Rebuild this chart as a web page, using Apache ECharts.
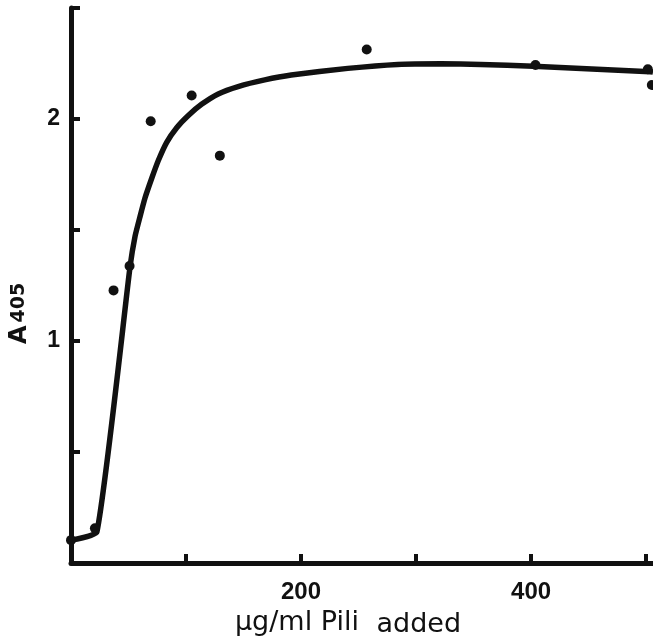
<!DOCTYPE html>
<html>
<head>
<meta charset="utf-8">
<script src="https://cdn.jsdelivr.net/npm/echarts@6/dist/echarts.min.js"></script>
<style>
html,body{margin:0;padding:0;background:#fff;}
#chart{width:653px;height:643px;}
</style>
</head>
<body>
<div id="chart"></div>
<script>
// Fitted curve (hand-drawn line)
const curveX = [0, 22.5, 51.4, 55.7, 60.1, 64.4, 70.2, 76, 83.2, 91.9, 102, 113.5, 128, 145.3, 168.4, 191.5, 240.6, 284, 321.5, 356.2, 402.1, 503.5, 506];
const curveY = [0.103, 0.14, 1.337, 1.472, 1.562, 1.645, 1.733, 1.814, 1.895, 1.961, 2.016, 2.066, 2.113, 2.146, 2.176, 2.198, 2.228, 2.246, 2.249, 2.246, 2.238, 2.213, 2.211];
// Measured points
const dotX = [0, 20.8, 37, 50.9, 69.3, 104.9, 129.4, 257.1, 403.8, 501.5, 505];
const dotY = [0.103, 0.156, 1.228, 1.338, 1.99, 2.106, 1.835, 2.313, 2.243, 2.224, 2.153];
// Tick labels shown
const xTickLabels = [200, 400];
const yTickLabels = [1, 2];

const ink = '#111';
const chart = echarts.init(document.getElementById('chart'));
chart.setOption({
  backgroundColor: '#fff',
  animation: false,
  grid: {left: 69, right: 0, top: 8, bottom: 70, containLabel: false},
  xAxis: {
    type: 'value', min: 0, max: 506, interval: 100,
    name: '{a|µg/ml Pili}{b| added}',
    nameLocation: 'middle', nameGap: 46,
    nameTextStyle: {
      padding: [0, 28, 0, 0],
      rich: {
        a: {fontFamily: 'DejaVu Sans', fontSize: 27, color: ink, verticalAlign: 'bottom', padding: [0, 0, 2, 0]},
        b: {fontFamily: 'DejaVu Sans', fontSize: 27, color: ink, verticalAlign: 'bottom', padding: [0, 0, 0, 9]}
      }
    },
    axisLine: {show: true, lineStyle: {color: ink, width: 5}},
    axisTick: {show: true, inside: true, length: 9, lineStyle: {color: ink, width: 4}},
    axisLabel: {
      margin: 17, color: ink, fontFamily: 'Liberation Sans', fontWeight: 'bold', fontSize: 24,
      showMaxLabel: false,
      formatter: v => xTickLabels.includes(v) ? String(v) : ''
    },
    splitLine: {show: false}
  },
  yAxis: {
    type: 'value', min: 0, max: 2.5, interval: 0.5,
    name: '{a|A}{b|405}',
    nameLocation: 'middle', nameGap: 39,
    nameTextStyle: {
      padding: [0, 56, 0, 0],
      rich: {
        a: {fontFamily: 'DejaVu Sans', fontWeight: 'bold', fontSize: 24, color: ink, verticalAlign: 'bottom'},
        b: {fontFamily: 'DejaVu Sans', fontWeight: 'bold', fontSize: 19, color: ink, verticalAlign: 'bottom', padding: [0, 0, 3, 3]}
      }
    },
    axisLine: {show: true, lineStyle: {color: ink, width: 5}},
    axisTick: {show: true, inside: true, length: 9, lineStyle: {color: ink, width: 4}},
    axisLabel: {
      margin: 11, color: ink, fontFamily: 'Liberation Sans', fontWeight: 'bold', fontSize: 23,
      formatter: v => yTickLabels.includes(v) ? String(v) : ''
    },
    splitLine: {show: false}
  },
  series: [
    {
      type: 'line',
      data: curveX.map((x, i) => [x, curveY[i]]),
      showSymbol: false,
      smooth: 0.15,
      lineStyle: {color: ink, width: 5.5},
      z: 2
    },
    {
      type: 'scatter',
      data: dotX.map((x, i) => [x, dotY[i]]),
      symbol: 'circle',
      symbolSize: 10,
      itemStyle: {color: ink, opacity: 1},
      z: 3
    }
  ]
});
</script>
</body>
</html>
